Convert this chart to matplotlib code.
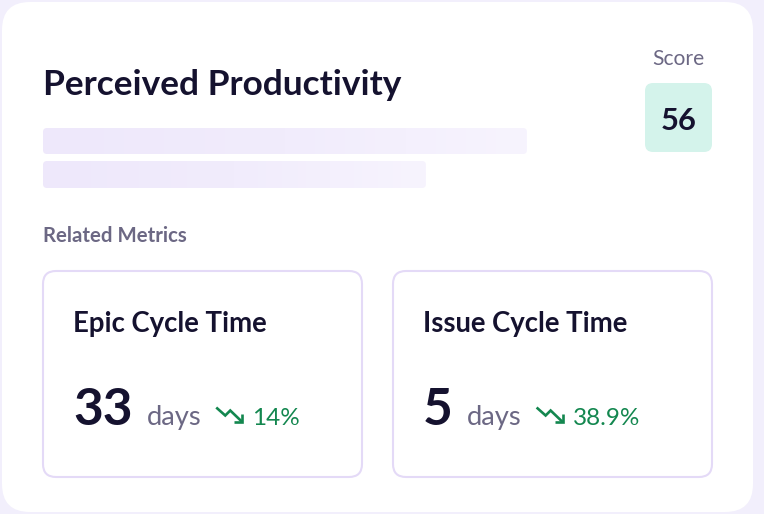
import matplotlib
matplotlib.use("Agg")
import matplotlib.pyplot as plt
from matplotlib.patches import FancyBboxPatch
from matplotlib.colors import LinearSegmentedColormap
import numpy as np

# ---- data ----
title = "Perceived Productivity"
score_label = "Score"
score_value = 56
section_label = "Related Metrics"
metric_names = ["Epic Cycle Time", "Issue Cycle Time"]
metric_values = [33, 5]
metric_units = ["days", "days"]
metric_changes = ["14%", "38.9%"]

# ---- style ----
W, H = 764, 514
BG = "#f2effc"
DARK = "#15122f"
GRAY = "#6c6884"
GREEN = "#13874f"
FONT = "Lato"

fig = plt.figure(figsize=(W / 100, H / 100), dpi=100)
fig.patch.set_facecolor(BG)
ax = fig.add_axes([0, 0, 1, 1])
ax.set_xlim(0, W)
ax.set_ylim(H, 0)
ax.axis("off")
fig.canvas.draw()
renderer = fig.canvas.get_renderer()


def rbox(x0, y0, x1, y1, r, fc, ec="none", lw=0, z=1):
    p = FancyBboxPatch((x0, y0), x1 - x0, y1 - y0,
                       boxstyle=f"round,pad=0,rounding_size={r}",
                       fc=fc, ec=ec, lw=lw, zorder=z)
    ax.add_patch(p)
    return p


def fit_text(x, y, s, width, size, ha="left", **kw):
    """Place text and scale its size so that its width matches `width`."""
    t = ax.text(x, y, s, fontsize=size, family=FONT, va="baseline", ha=ha,
                zorder=5, **kw)
    if width:
        bb = t.get_window_extent(renderer=renderer)
        if bb.width > 0:
            t.set_fontsize(size * width / bb.width)
    return t


def right_edge(t):
    return t.get_window_extent(renderer=renderer).x1


# outer card
rbox(2, 2, 753, 512, 28, "white", z=1)

# title + score
fit_text(43, 95, title, 359, 23, fontweight=700, color=DARK)
fit_text(678, 65, score_label, 52, 13.5, ha="center", color=GRAY)
rbox(645, 83, 712, 152, 8, "#d4f3eb", z=2)
fit_text(679, 130, str(score_value), 36, 23, ha="center", fontweight=700,
         color=DARK)

# skeleton bars with gradient
grad = np.linspace(0, 1, 256).reshape(1, -1)
cmap = LinearSegmentedColormap.from_list("sk", ["#eee8fb", "#f1ecfc", "#f7f4fe"])
for (x0, y0, x1, y1) in [(43, 128, 527, 154), (43, 161, 426, 188)]:
    p = rbox(x0, y0, x1, y1, 4, "none", z=2)
    im = ax.imshow(grad, extent=(x0, x1, y1, y0), cmap=cmap, aspect="auto",
                   zorder=2, interpolation="bilinear")
    im.set_clip_path(p)
ax.set_xlim(0, W)
ax.set_ylim(H, 0)

fit_text(43, 242, section_label, 144, 13.5, fontweight=700, color=GRAY)

# metric cards
card_x = [43, 393]
card_w = 319
name_w = [194, 205]
unit_w = [55, 55]

for i, (cx, name, val, unit, chg) in enumerate(zip(card_x, metric_names,
                                                   metric_values, metric_units,
                                                   metric_changes)):
    rbox(cx, 271, cx + card_w, 477, 13, "white", ec="#e4daf7", lw=1.5, z=2)
    fit_text(cx + 30, 332, name, name_w[i], 17, fontweight=700, color=DARK)
    tv = fit_text(cx + 30, 425, str(val), None, 37, fontweight=700,
                  color=DARK)
    x = right_edge(tv) + 14
    tu = fit_text(x, 425, unit, unit_w[i], 19, color=GRAY)
    x0 = right_edge(tu) + 15
    ax.plot([x0, x0 + 9, x0 + 14, x0 + 26], [407.5, 415.5, 410.5, 422],
            color=GREEN, lw=1.9, solid_joinstyle="miter", solid_capstyle="butt",
            zorder=5)
    ax.plot([x0 + 18, x0 + 26, x0 + 26], [422, 422, 414],
            color=GREEN, lw=1.9, solid_joinstyle="miter", solid_capstyle="butt",
            zorder=5)
    fit_text(x0 + 36, 425, chg, None, 17.5, color=GREEN)

fig.savefig("out.png", dpi=100, facecolor=BG)
